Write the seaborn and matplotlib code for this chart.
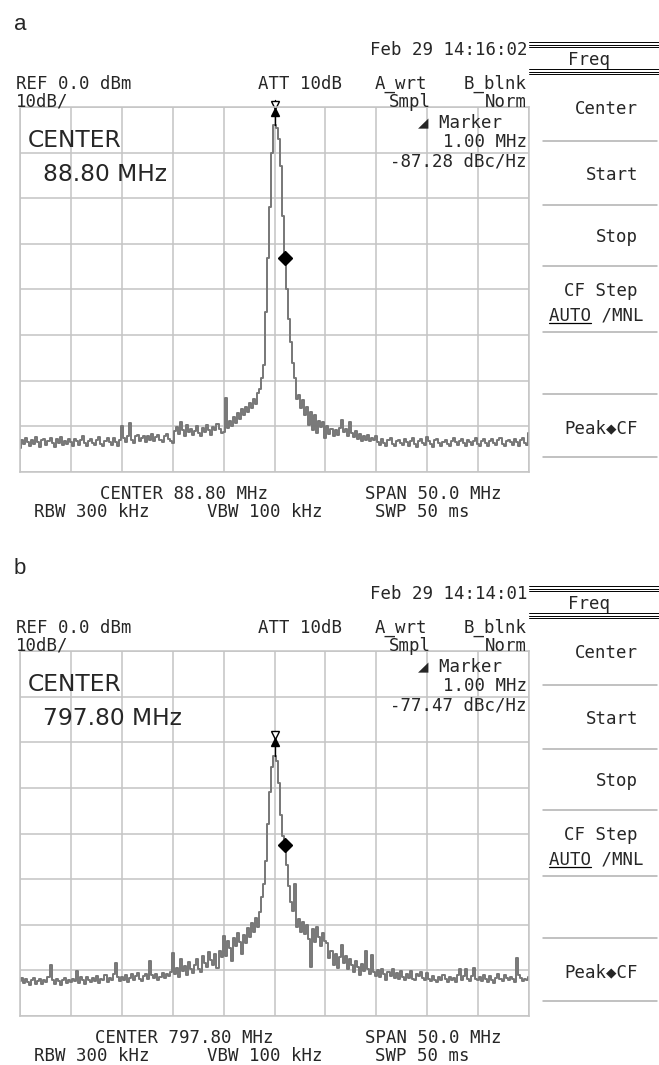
import numpy as np
import matplotlib
matplotlib.use("Agg")
import matplotlib.pyplot as plt
import seaborn as sns

# figure size in pixels
W, H = 659, 1065

SPAN_MHZ = 50.0
MARKER_OFFSET_MHZ = 1.00

panel_labels = ["a", "b"]
timestamps = ["Feb 29 14:16:02", "Feb 29 14:14:01"]
center_freqs = ["88.80 MHz", "797.80 MHz"]
marker_readouts = ["-87.28 dBc/Hz", "-77.47 dBc/Hz"]
menu_labels = ["Center", "Start", "Stop", "CF Step", "Peak\u25c6CF"]

# trace levels in dB, 0.2 MHz per point, one row per 5 MHz division
levels_a = [
    -74.8, -73.0, -73.9, -72.6, -73.5, -74.3, -72.9, -73.8, -72.4, -73.4, -74.5, -73.0, -72.7, -74.1, -73.3, -72.5, -73.7, -74.6, -72.8, -73.6, -72.3, -74.0, -73.2, -73.9, -72.8,
    -73.5, -74.2, -72.7, -73.3, -74.0, -72.9, -72.2, -73.7, -74.4, -73.1, -72.8, -73.6, -74.1, -72.9, -72.4, -73.8, -74.3, -73.2, -72.6, -73.5, -74.0, -72.5, -73.4, -74.2, -73.0,
    -70.0, -72.6, -73.4, -72.0, -69.2, -72.9, -73.6, -72.2, -71.8, -73.3, -72.6, -72.0, -73.5, -72.1, -72.9, -71.7, -73.2, -72.4, -71.9, -72.9, -73.4, -72.2, -71.6, -72.7, -73.1,
    -73.6, -71.0, -70.2, -71.6, -69.0, -70.8, -72.0, -69.8, -71.3, -70.6, -71.9, -71.1, -69.9, -71.5, -72.1, -70.4, -71.2, -69.6, -70.7, -71.8, -70.1, -70.9, -69.4, -70.5, -71.4,
    -71.2, -63.8, -70.4, -68.8, -70.0, -67.9, -69.2, -67.0, -68.4, -66.3, -67.6, -65.7, -66.8, -64.8, -66.0, -63.9, -65.0, -62.6, -61.9, -59.5, -56.5, -45.0, -33.0, -22.0, -10.0,
    -4.0,
    -4.5, -7.0, -13.0, -24.0, -33.0, -40.0, -46.5, -51.5, -56.0, -59.5, -64.0, -63.2, -66.0, -64.3, -67.4, -65.8, -69.6, -66.8, -70.8, -67.6, -71.4, -68.8, -70.2, -69.0, -72.6,
    -70.0, -71.6, -70.5, -72.1, -70.8, -71.9, -70.3, -68.7, -71.3, -70.5, -72.0, -69.1, -71.5, -72.3, -71.0, -72.7, -71.6, -73.1, -72.1, -72.9, -71.8, -73.3, -72.5, -73.0, -72.0,
    -73.4, -74.1, -72.8, -73.6, -74.3, -73.0, -72.6, -73.8, -74.4, -73.2, -72.9, -73.7, -74.0, -72.7, -73.5, -74.2, -73.1, -72.5, -73.9, -74.5, -73.3, -72.8, -73.6, -74.0, -72.4,
    -73.2, -73.9, -74.6, -73.0, -72.7, -73.6, -74.2, -73.4, -72.9, -73.8, -74.4, -73.1, -72.6, -73.5, -74.1, -73.3, -72.8, -73.7, -74.3, -72.9, -73.5, -74.0, -73.2, -72.6, -73.8,
    -74.2, -73.1, -72.8, -73.7, -74.4, -73.3, -72.7, -73.6, -74.1, -73.0, -72.5, -73.8, -74.3, -73.2, -72.9, -73.5, -74.0, -72.7, -73.4, -74.2, -73.0, -72.6, -73.7, -74.1, -71.5,
]

levels_b = [
    -72.4, -71.6, -72.8, -71.9, -72.5, -73.2, -72.0, -71.7, -72.9, -72.3, -71.8, -73.0, -72.1, -72.6, -71.5, -68.8, -72.2, -72.9, -71.9, -72.4, -73.1, -72.0, -71.6, -72.7, -72.2,
    -72.6, -71.8, -72.3, -70.2, -72.7, -71.5, -72.1, -72.9, -71.4, -72.0, -72.6, -71.7, -72.4, -71.3, -72.8, -71.9, -72.2, -71.1, -72.5, -71.6, -72.0, -70.8, -68.4, -71.5, -72.3,
    -71.4, -72.2, -71.0, -72.5, -71.6, -70.9, -72.1, -71.3, -70.6, -71.8, -72.3, -71.2, -70.7, -71.9, -67.9, -71.1, -71.7, -70.8, -72.0, -71.4, -70.5, -71.6, -70.9, -71.2, -70.4,
    -66.2, -70.8, -69.4, -71.5, -67.4, -70.2, -69.1, -71.0, -68.2, -69.8, -70.6, -68.9, -67.5, -69.6, -70.3, -66.8, -68.4, -69.2, -65.9, -67.8, -68.9, -66.4, -69.5, -65.8, -67.1,
    -62.4, -66.8, -63.5, -65.2, -67.9, -62.8, -64.6, -61.9, -63.7, -66.5, -62.3, -64.0, -60.8, -62.6, -59.7, -61.5, -58.6, -60.4, -57.3, -54.0, -51.0, -46.0, -38.0, -31.0, -25.5,
    -23.0,
    -24.0, -29.0, -36.0, -40.5, -42.5, -47.0, -51.5, -55.0, -57.0, -51.0, -60.5, -58.8, -61.6, -59.4, -62.0, -60.1, -63.2, -69.3, -61.0, -63.8, -60.5, -62.7, -64.6, -61.8, -63.5,
    -64.0, -67.2, -65.8, -68.9, -66.4, -69.5, -67.0, -64.5, -68.3, -66.9, -69.8, -67.6, -68.8, -70.4, -67.9, -69.2, -71.0, -68.5, -70.1, -65.8, -69.6, -70.8, -66.7, -70.3, -71.2,
    -70.0, -71.5, -69.6, -70.8, -72.0, -70.3, -71.2, -69.8, -71.7, -70.5, -71.9, -70.2, -71.4, -72.1, -70.7, -71.6, -70.1, -71.8, -72.2, -70.9, -71.3, -70.4, -71.7, -72.0, -70.6,
    -71.8, -72.4, -71.2, -72.0, -72.6, -71.5, -72.1, -71.0, -71.9, -72.5, -71.4, -72.2, -71.7, -72.6, -71.1, -69.6, -72.0, -71.3, -69.8, -71.9, -72.4, -71.2, -69.5, -71.8, -72.1,
    -71.5, -72.3, -71.0, -71.8, -72.5, -71.3, -72.0, -72.7, -71.6, -70.8, -71.9, -72.4, -71.1, -71.7, -72.2, -71.4, -71.9, -72.5, -67.2, -71.0, -71.6, -72.3, -71.8, -72.1, -71.4,
]

assert len(levels_a) == 251 and len(levels_b) == 251

GRID = "#c4c4c4"
TRACE = "#777777"
MONO = ["DejaVu Sans Mono", "DejaVu Sans"]

sns.set_style("white")
plt.rcParams["font.family"] = MONO


def put(fig, x, y, s, ha="left", size=12.5, family=MONO, **kw):
    return fig.text(x / W, 1 - y / H, s, ha=ha, va="center_baseline",
                    fontsize=size, family=family, **kw)


def hline(fig, x0, x1, y, color="k", lw=0.7):
    fig.add_artist(plt.Line2D([x0 / W, x1 / W], [1 - y / H, 1 - y / H],
                              color=color, lw=lw))


def draw_panel(fig, dy, label, stamp, cf, readout, levels):
    ax = fig.add_axes([20 / W, 1 - (dy + 472) / H, 509 / W, 365 / H])
    freq = np.linspace(-SPAN_MHZ / 2, SPAN_MHZ / 2, len(levels))
    sns.lineplot(x=freq, y=levels, ax=ax, color=TRACE, linewidth=1.4,
                 drawstyle="steps-mid", estimator=None, legend=False)
    ax.set_xlim(-SPAN_MHZ / 2, SPAN_MHZ / 2)
    ax.set_ylim(-80, 0)
    ax.set_xticks(np.arange(-25, 26, 5))
    ax.set_yticks(np.arange(-80, 1, 10))
    ax.grid(True, color=GRID, linewidth=1.1)
    ax.set_axisbelow(True)
    ax.tick_params(length=0, labelbottom=False, labelleft=False)
    ax.set_xlabel("")
    ax.set_ylabel("")
    for sp in ax.spines.values():
        sp.set_color(GRID)
        sp.set_linewidth(1.1)

    # peak marker (bowtie with stem) and delta marker diamond
    pk = int(np.argmax(levels))
    px, py = freq[pk], levels[pk]
    ax.plot([px, px], [py, py + 5.5], color="k", lw=1.0, clip_on=False)
    ax.plot(px, py + 4.5, marker="v", ms=5.5, mfc="white", mec="k", mew=1.0, clip_on=False)
    ax.plot(px, py + 3.0, marker="^", ms=5.5, color="k", clip_on=False)
    mi = int(np.argmin(np.abs(freq - MARKER_OFFSET_MHZ)))
    ax.plot(freq[mi], levels[mi], marker="D", ms=7, color="k", clip_on=False)

    # header
    put(fig, 14, dy + 22, label, family=["Liberation Sans", "DejaVu Sans"], size=16)
    put(fig, 527, dy + 48, stamp, ha="right")
    put(fig, 589, dy + 58, "Freq", ha="center")
    for y in (42, 44.5, 47, 69, 71.5, 74):
        hline(fig, 529, 659, dy + y)
    put(fig, 16, dy + 82, "REF 0.0 dBm")
    put(fig, 300, dy + 82, "ATT 10dB", ha="center")
    put(fig, 401, dy + 82, "A_wrt", ha="center")
    put(fig, 527, dy + 82, "B_blnk", ha="right")
    put(fig, 16, dy + 100, "10dB/")
    put(fig, 410, dy + 100, "Smpl", ha="center")
    put(fig, 527, dy + 100, "Norm", ha="right")

    # marker readout and big center label
    put(fig, 502, dy + 120, "\u25e2 Marker", ha="right")
    put(fig, 527, dy + 140, f"{MARKER_OFFSET_MHZ:.2f} MHz", ha="right")
    put(fig, 527, dy + 160, readout, ha="right")
    put(fig, 28, dy + 138, "CENTER", family=["DejaVu Sans"], size=16.8)
    put(fig, 43, dy + 172, cf, family=["DejaVu Sans"], size=16.8)

    # soft key menu
    for s, y in zip(menu_labels, (107, 173, 235, 289, 426)):
        put(fig, 638, dy + y, s, ha="right")
    t = put(fig, 596, dy + 314, "AUTO /MNL", ha="center")
    for y in (141, 205, 266, 332, 394, 457):
        hline(fig, 543, 657, dy + y, color="#b0b0b0", lw=1.1)
    fig.canvas.draw()
    bb = t.get_window_extent()
    hline(fig, bb.x0, bb.x0 + bb.width * 4 / 9, dy + 323, lw=0.9)

    # footer
    put(fig, 184, dy + 492, f"CENTER {cf}", ha="center")
    put(fig, 433, dy + 492, f"SPAN {SPAN_MHZ:.1f} MHz", ha="center")
    put(fig, 92, dy + 510, "RBW 300 kHz", ha="center")
    put(fig, 265, dy + 510, "VBW 100 kHz", ha="center")
    put(fig, 422, dy + 510, "SWP 50 ms", ha="center")


fig = plt.figure(figsize=(W / 100, H / 100), dpi=100)
fig.patch.set_facecolor("white")
for i, lv in enumerate([levels_a, levels_b]):
    draw_panel(fig, i * 544, panel_labels[i], timestamps[i], center_freqs[i],
               marker_readouts[i], lv)

fig.savefig("out.png", dpi=100)
